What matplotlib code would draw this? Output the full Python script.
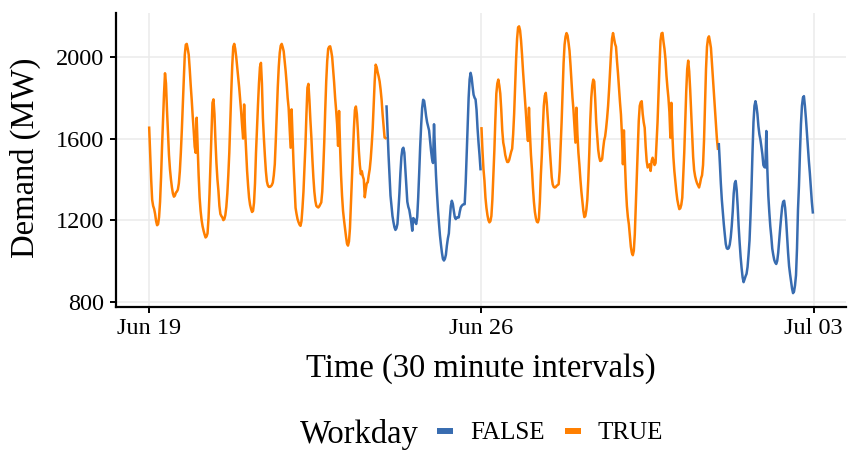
import pandas as pd
import matplotlib
matplotlib.use("Agg")
import matplotlib.pyplot as plt
import matplotlib.dates as mdates
from matplotlib.lines import Line2D

plt.rcParams['font.family'] = ['Liberation Serif', 'DejaVu Serif']

# Half-hourly electricity demand (MW), one list of 48 readings per day
jun19 = [1653, 1530, 1400, 1300, 1270, 1255, 1230, 1195, 1175, 1180, 1215, 1290,
         1410, 1560, 1690, 1820, 1920, 1870, 1740, 1630, 1520, 1450, 1400, 1360,
         1330, 1315, 1320, 1335, 1340, 1350, 1380, 1440, 1530, 1640, 1770, 1890,
         2010, 2060, 2064, 2040, 2010, 1940, 1860, 1790, 1710, 1640, 1560, 1530]
jun20 = [1702, 1560, 1420, 1310, 1245, 1200, 1170, 1148, 1130, 1115, 1120, 1135,
         1210, 1330, 1480, 1640, 1775, 1792, 1720, 1590, 1480, 1400, 1345, 1270,
         1230, 1220, 1213, 1200, 1205, 1225, 1265, 1330, 1420, 1530, 1680, 1830,
         1960, 2050, 2064, 2040, 2000, 1950, 1900, 1850, 1790, 1730, 1660, 1600]
jun21 = [1767, 1640, 1540, 1441, 1370, 1310, 1275, 1255, 1240, 1245, 1285, 1380,
         1530, 1650, 1765, 1870, 1950, 1971, 1870, 1700, 1600, 1515, 1440, 1390,
         1370, 1363, 1363, 1366, 1372, 1384, 1420, 1474, 1590, 1720, 1850, 1950,
         2020, 2055, 2064, 2048, 2028, 1980, 1930, 1870, 1800, 1750, 1650, 1555]
jun22 = [1743, 1600, 1470, 1360, 1260, 1230, 1205, 1190, 1178, 1172, 1195, 1260,
         1340, 1450, 1570, 1720, 1849, 1868, 1790, 1690, 1605, 1500, 1410, 1340,
         1295, 1270, 1265, 1262, 1268, 1278, 1287, 1340, 1450, 1580, 1740, 1880,
         1980, 2040, 2050, 2052, 2030, 2000, 1940, 1875, 1800, 1740, 1670, 1564]
jun23 = [1735, 1560, 1420, 1320, 1246, 1200, 1160, 1120, 1085, 1075, 1095, 1160,
         1280, 1400, 1530, 1650, 1740, 1757, 1720, 1640, 1540, 1470, 1425, 1440,
         1415, 1400, 1312, 1350, 1381, 1385, 1420, 1450, 1500, 1570, 1650, 1760,
         1880, 1962, 1950, 1925, 1905, 1880, 1840, 1790, 1720, 1660, 1605, 1602]
jun24 = [1757, 1640, 1520, 1420, 1320, 1270, 1220, 1190, 1165, 1152, 1160, 1181,
         1250, 1330, 1430, 1510, 1548, 1555, 1530, 1450, 1370, 1290, 1265, 1250,
         1220, 1190, 1148, 1210, 1205, 1190, 1181, 1215, 1310, 1430, 1560, 1665,
         1750, 1790, 1785, 1750, 1710, 1680, 1660, 1640, 1590, 1540, 1500, 1480]
jun25 = [1670, 1540, 1420, 1330, 1250, 1185, 1125, 1080, 1040, 1010, 1002, 1010,
         1030, 1075, 1110, 1135, 1210, 1270, 1295, 1280, 1246, 1215, 1205, 1213,
         1213, 1213, 1240, 1262, 1270, 1275, 1278, 1278, 1380, 1520, 1660, 1800,
         1890, 1922, 1900, 1855, 1815, 1800, 1792, 1740, 1650, 1580, 1520, 1450]
jun26 = [1650, 1540, 1450, 1393, 1310, 1260, 1225, 1200, 1189, 1195, 1220, 1300,
         1420, 1540, 1690, 1820, 1870, 1889, 1860, 1820, 1740, 1640, 1580, 1555,
         1520, 1500, 1485, 1485, 1495, 1515, 1535, 1550, 1620, 1720, 1849, 1990,
         2090, 2145, 2150, 2130, 2080, 2010, 1930, 1860, 1790, 1718, 1640, 1588]
jun27 = [1751, 1620, 1520, 1450, 1360, 1290, 1240, 1210, 1192, 1189, 1205, 1290,
         1420, 1520, 1650, 1760, 1810, 1824, 1775, 1700, 1620, 1550, 1480, 1410,
         1375, 1363, 1360, 1362, 1368, 1372, 1376, 1440, 1560, 1680, 1820, 1970,
         2060, 2100, 2117, 2105, 2070, 2030, 1960, 1880, 1800, 1740, 1660, 1580]
jun28 = [1751, 1620, 1530, 1470, 1400, 1340, 1290, 1245, 1215, 1220, 1250, 1300,
         1400, 1530, 1690, 1800, 1860, 1889, 1880, 1790, 1680, 1610, 1545, 1510,
         1490, 1492, 1500, 1550, 1590, 1610, 1650, 1700, 1760, 1840, 1930, 2020,
         2090, 2117, 2090, 2065, 2050, 1980, 1920, 1850, 1780, 1718, 1620, 1474]
jun29 = [1640, 1490, 1360, 1270, 1215, 1180, 1125, 1070, 1040, 1028, 1050, 1130,
         1270, 1400, 1560, 1686, 1760, 1778, 1783, 1720, 1680, 1653, 1560, 1490,
         1458, 1466, 1474, 1441, 1490, 1506, 1490, 1470, 1480, 1580, 1680, 1820,
         1960, 2080, 2115, 2118, 2075, 2040, 1990, 1910, 1850, 1800, 1730, 1604]
jun30 = [1775, 1620, 1510, 1441, 1390, 1340, 1300, 1275, 1254, 1258, 1275, 1310,
         1420, 1530, 1680, 1830, 1940, 1982, 1930, 1840, 1730, 1610, 1510, 1445,
         1415, 1395, 1380, 1370, 1360, 1380, 1405, 1420, 1470, 1590, 1760, 1940,
         2050, 2090, 2101, 2075, 2044, 1970, 1890, 1820, 1750, 1680, 1600, 1550]
jul01 = [1572, 1480, 1380, 1300, 1240, 1180, 1130, 1083, 1062, 1059, 1063, 1080,
         1115, 1170, 1240, 1330, 1380, 1392, 1350, 1270, 1170, 1090, 1020, 965,
         920, 896, 910, 925, 937, 970, 1030, 1100, 1220, 1360, 1530, 1680,
         1760, 1783, 1760, 1720, 1660, 1620, 1595, 1560, 1523, 1470, 1460, 1458]
jul02 = [1637, 1450, 1320, 1240, 1170, 1120, 1060, 1030, 1005, 992, 985, 1000,
         1040, 1100, 1160, 1215, 1265, 1290, 1295, 1260, 1200, 1120, 1040, 975,
         935, 900, 865, 842, 850, 880, 930, 1060, 1250, 1370, 1530, 1670,
         1760, 1800, 1808, 1760, 1700, 1630, 1560, 1490, 1430, 1360, 1290, 1238]

daily_demand = [jun19, jun20, jun21, jun22, jun23, jun24, jun25,
                jun26, jun27, jun28, jun29, jun30, jul01, jul02]
workday = [True, True, True, True, True, False, False,
           True, True, True, True, True, False, False]
day_start = pd.date_range("2014-06-19", periods=len(daily_demand), freq="D")

tick_dates = pd.to_datetime(["2014-06-19", "2014-06-26", "2014-07-03"])
y_ticks = [800, 1200, 1600, 2000]
legend_labels = ["FALSE", "TRUE"]
colors = {False: "#386cb0", True: "#ff7f00"}

fig = plt.figure(figsize=(8.48, 4.54), dpi=100)
ax = fig.add_axes([116 / 848, 1 - 306.5 / 454, (846 - 116) / 848, (306.5 - 13) / 454])

# join consecutive days that share the same workday flag into one line
runs = []
for start, values, flag in zip(day_start, daily_demand, workday):
    times = pd.date_range(start, periods=len(values), freq="30min")
    if runs and runs[-1][2] == flag:
        runs[-1][0].extend(times)
        runs[-1][1].extend(values)
    else:
        runs.append([list(times), list(values), flag])

for times, values, flag in runs:
    ax.plot(times, values, color=colors[flag], lw=1.8, solid_joinstyle="round",
            zorder=3)

ax.set_xticks(tick_dates)
ax.xaxis.set_major_formatter(mdates.DateFormatter("%b %d"))
ax.set_yticks(y_ticks)
ax.margins(x=0.05, y=0.05)

ax.grid(True, color="#ebebeb", lw=1.1, zorder=0)
ax.set_axisbelow(True)
for side in ("top", "right"):
    ax.spines[side].set_visible(False)
for side in ("left", "bottom"):
    ax.spines[side].set_linewidth(1.6)
    ax.spines[side].set_color("black")
ax.tick_params(axis="both", direction="out", length=4.5, width=1.4,
               color="black", labelsize=17.5, labelcolor="black", pad=4)

fig.text(25 / 848, 1 - 158 / 454, "Demand (MW)", rotation=90, ha="center",
         va="center", fontsize=23.5)
fig.text(481 / 848, 1 - 369 / 454, "Time (30 minute intervals)", ha="center",
         va="center", fontsize=23.5)

handles = [Line2D([0], [0], color=colors[False], lw=4.3, solid_capstyle="butt"),
           Line2D([0], [0], color=colors[True], lw=4.3, solid_capstyle="butt")]
fig.legend(handles, legend_labels, loc="center left",
           bbox_to_anchor=(437 / 848, 1 - 433 / 454), ncol=2, frameon=False,
           fontsize=18, handlelength=0.64, handletextpad=0.68,
           columnspacing=0.8, borderpad=0, borderaxespad=0)
fig.text(419 / 848, 1 - 435 / 454, "Workday", ha="right", va="center",
         fontsize=23.5)

fig.savefig("out.png", dpi=100)
